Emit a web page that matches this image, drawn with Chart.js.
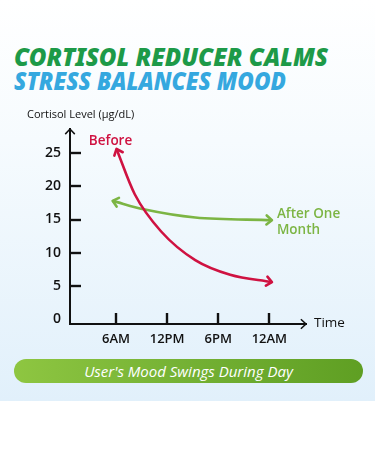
<!DOCTYPE html>
<html><head><meta charset="utf-8">
<script src="https://cdn.jsdelivr.net/npm/chart.js@4.4.1/dist/chart.umd.min.js"></script>
<style>
html,body{margin:0;padding:0;width:375px;height:450px;background:#fff;overflow:hidden;}
#bg{position:absolute;left:0;top:0;width:375px;height:401px;background:linear-gradient(#ffffff 0%,#f6fbfe 35%,#e1f0fb 100%);}
.t{position:absolute;left:14px;font-family:'Noto Sans';font-weight:900;font-style:italic;font-size:24px;line-height:24px;white-space:nowrap;transform-origin:0 50%;}
#t1{top:45px;color:#1d9a48;}
#t2{top:69px;color:#35a8df;}
#wrap{position:absolute;left:0;top:95px;width:375px;height:260px;}
#banner{position:absolute;left:14px;top:359px;width:349px;height:24px;border-radius:12px;background:linear-gradient(90deg,#8ec641,#74b134 50%,#5f9f23);color:#fff;font-family:'Open Sans';font-style:italic;font-size:15px;line-height:24px;text-align:center;}
</style></head>
<body>
<div id="bg"></div>
<div class="t" id="t1">CORTISOL REDUCER CALMS</div>
<div class="t" id="t2">STRESS BALANCES MOOD</div>
<div id="wrap"><canvas id="c" width="375" height="260"></canvas></div>
<div id="banner">User's Mood Swings During Day</div>
<script>
// ---- data ----
const beforeHours  = [6.06, 8.2, 11.3, 15.3, 19.4, 24.3];
const beforeValues = [25.6, 18.8, 13.2, 8.9, 6.7, 5.6];
const afterHours   = [5.6, 9.4, 15.3, 24.3];
const afterValues  = [17.8, 16.5, 15.3, 14.9];
const tickHours    = [6, 12, 18, 24];
const tickLabels   = ['6AM', '12PM', '6PM', '12AM'];
const yTickValues  = [0, 5, 10, 15, 20, 25];
const seriesNames  = ['Before', 'After One Month'];

const RED = '#cf1241', GREEN = '#7cb544';

function fit(id, w){ const el=document.getElementById(id); el.style.transform='none'; const r=el.getBoundingClientRect().width; el.style.transform='scaleX('+(w/r)+')'; }
fit('t1', 314); fit('t2', 272);
if (document.fonts && document.fonts.ready) document.fonts.ready.then(()=>{fit('t1',314);fit('t2',272);});

function chevron(ctx, x, y, ang, L, th){
  ctx.beginPath();
  ctx.moveTo(x - L*Math.cos(ang - th), y - L*Math.sin(ang - th));
  ctx.lineTo(x, y);
  ctx.lineTo(x - L*Math.cos(ang + th), y - L*Math.sin(ang + th));
  ctx.stroke();
}

const overlay = {
  id: 'overlay',
  afterDatasetsDraw(chart){
    const {ctx, chartArea: a, scales: {x, y}} = chart;
    ctx.save();
    ctx.strokeStyle = '#111'; ctx.lineWidth = 2.4; ctx.lineCap = 'butt';
    yTickValues.forEach(v => { if (v === 0) return; const py = Math.round(y.getPixelForValue(v)); ctx.beginPath(); ctx.moveTo(a.left, py); ctx.lineTo(a.left + 11, py); ctx.stroke(); });
    tickHours.forEach(h => { const px = Math.round(x.getPixelForValue(h)); ctx.beginPath(); ctx.moveTo(px, a.bottom); ctx.lineTo(px, a.bottom - 11); ctx.stroke(); });
    ctx.lineWidth = 1.5; ctx.lineJoin = 'miter';
    chevron(ctx, a.left, a.top, -Math.PI/2, 7, 0.75);
    chevron(ctx, a.right, a.bottom, 0, 7, 0.75);
    chart.data.datasets.forEach((ds, i) => {
      const pts = chart.getDatasetMeta(i).data;
      const p0 = pts[0], p1 = pts[1], pn = pts[pts.length-1], pm = pts[pts.length-2];
      let a0 = (p0.cp2x!==undefined && (p0.cp2x!==p0.x || p0.cp2y!==p0.y)) ? Math.atan2(p0.y - p0.cp2y, p0.x - p0.cp2x) : Math.atan2(p0.y - p1.y, p0.x - p1.x);
      let an = (pn.cp1x!==undefined && (pn.cp1x!==pn.x || pn.cp1y!==pn.y)) ? Math.atan2(pn.y - pn.cp1y, pn.x - pn.cp1x) : Math.atan2(pn.y - pm.y, pn.x - pm.x);
      ctx.strokeStyle = ds.borderColor; ctx.lineWidth = 2.6; ctx.lineCap = 'round'; ctx.lineJoin = 'round';
      chevron(ctx, p0.x, p0.y, a0, 7, 0.7);
      chevron(ctx, pn.x, pn.y, an, 7, 0.7);
    });
    const r0 = chart.getDatasetMeta(0).data[0];
    const gN = chart.getDatasetMeta(1).data[afterHours.length-1];
    ctx.textBaseline = 'middle';
    ctx.font = "600 13.5px 'Open Sans'"; ctx.fillStyle = RED; ctx.textAlign = 'center';
    ctx.fillText(seriesNames[0], r0.x - 6, r0.y - 8);
    ctx.fillStyle = GREEN; ctx.textAlign = 'left';
    ctx.fillText('After One', gN.x + 5, gN.y - 6);
    ctx.fillText('Month', gN.x + 5, gN.y + 10);
    ctx.fillStyle = '#111'; ctx.font = "500 13.5px 'Open Sans'";
    ctx.fillText('Time', a.right + 8, a.bottom - 1);
    ctx.font = "400 11px 'Open Sans'";
    ctx.fillText('Cortisol Level (μg/dL)', 27, a.top - 14);
    ctx.restore();
  }
};

Chart.defaults.font.family = "'Open Sans'";
new Chart(document.getElementById('c'), {
  type: 'line',
  data: {
    datasets: [
      { label: seriesNames[0], data: beforeHours.map((h, i) => ({x: h, y: beforeValues[i]})), borderColor: RED, borderWidth: 2.6, pointRadius: 0, cubicInterpolationMode: 'monotone', clip: false, fill: false },
      { label: seriesNames[1], data: afterHours.map((h, i) => ({x: h, y: afterValues[i]})), borderColor: GREEN, borderWidth: 2.6, pointRadius: 0, cubicInterpolationMode: 'monotone', clip: false, fill: false }
    ]
  },
  options: {
    responsive: false, animation: false, devicePixelRatio: 1,
    layout: { padding: { top: 34, right: 69, left: 0, bottom: 0 } },
    plugins: { legend: { display: false }, tooltip: { enabled: false }, title: { display: false } },
    scales: {
      x: {
        type: 'linear', min: 0.6, max: 28.3,
        afterBuildTicks: s => { s.ticks = tickHours.map(v => ({value: v})); },
        afterFit: s => { s.height = 31; },
        ticks: { callback: v => tickLabels[tickHours.indexOf(v)], color: '#111', font: { size: 13, weight: '600' }, padding: 7, maxRotation: 0, autoSkip: false },
        grid: { display: true, drawOnChartArea: false, drawTicks: false, color: 'rgba(0,0,0,0)' },
        border: { display: true, color: '#111', width: 2 }
      },
      y: {
        type: 'linear', min: -0.7, max: 28.6,
        afterBuildTicks: s => { s.ticks = yTickValues.map(v => ({value: v})); },
        afterFit: s => { s.width = 70; },
        ticks: { callback: v => String(v), color: '#111', font: { size: 14, weight: '600' }, padding: 9, autoSkip: false },
        grid: { display: true, drawOnChartArea: false, drawTicks: false, color: 'rgba(0,0,0,0)' },
        border: { display: true, color: '#111', width: 2 }
      }
    }
  },
  plugins: [overlay]
});
</script>
</body></html>
